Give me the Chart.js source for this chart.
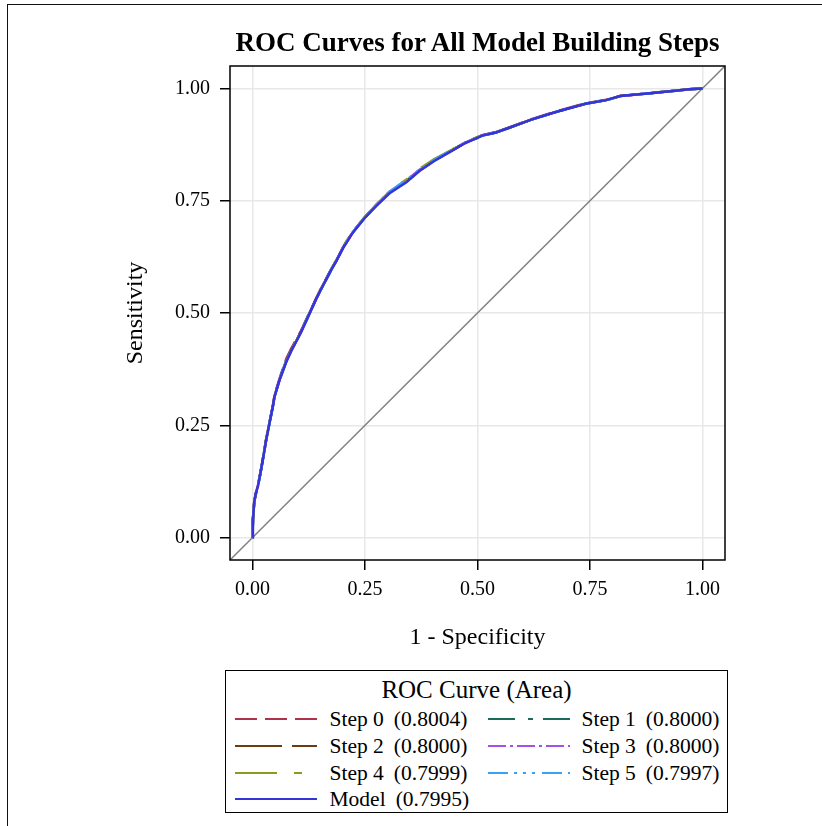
<!DOCTYPE html>
<html>
<head>
<meta charset="utf-8">
<script src="https://cdn.jsdelivr.net/npm/chart.js@4.4.0/dist/chart.umd.min.js"></script>
<style>
html,body{margin:0;padding:0;background:#fff;}
body{width:822px;height:826px;position:relative;overflow:hidden;font-family:'Liberation Serif','Times New Roman',serif;color:#000;}
#frame{position:absolute;left:7px;top:4px;width:840px;height:860px;border-top:1.5px solid #111;border-left:1.5px solid #111;}
#wrap{position:absolute;left:0;top:0;width:822px;height:826px;}
#title{position:absolute;left:230px;width:495px;top:26px;text-align:center;font-weight:bold;font-size:27px;line-height:32px;white-space:nowrap;}
#legend{position:absolute;left:225px;top:670px;width:501px;height:141px;border:1.5px solid #000;background:#fff;}
#legend .lt{position:absolute;left:0;width:100%;top:5px;text-align:center;font-size:25px;line-height:28px;}
#legend .it{position:absolute;height:28px;line-height:28px;font-size:21.5px;white-space:nowrap;}
#legend svg{position:absolute;}
#legend .area{margin-left:10px;}
</style>
</head>
<body>
<div id="frame"></div>
<div id="wrap"><canvas id="c" width="822" height="826"></canvas></div>
<div id="title">ROC Curves for All Model Building Steps</div>
<div id="legend"><div class="lt">ROC Curve (Area)</div></div>
<script>
// ---- data ----
const seriesNames = ['Step 0','Step 1','Step 2','Step 3','Step 4','Step 5','Model'];
const seriesAreas = ['0.8004','0.8000','0.8000','0.8000','0.7999','0.7997','0.7995'];
const xTickValues = [0, 0.25, 0.5, 0.75, 1];
const yTickValues = [0, 0.25, 0.5, 0.75, 1];
const axisMin = -0.05, axisMax = 1.05;

const fpr = [0,0.001,0.004,0.008,0.012,0.018,0.023,0.030,0.038,0.045,0.049,0.060,0.068,0.075,0.086,0.097,0.108,0.123,0.132,0.142,0.153,0.164,0.175,0.186,0.201,0.223,0.249,0.275,0.304,0.325,0.342,0.371,0.403,0.441,0.472,0.511,0.541,0.572,0.618,0.672,0.740,0.786,0.817,0.878,0.940,0.970,1.000];

const tprModel = [0,0.040,0.080,0.100,0.114,0.145,0.173,0.215,0.256,0.290,0.314,0.350,0.372,0.391,0.415,0.436,0.457,0.490,0.510,0.532,0.554,0.575,0.596,0.615,0.644,0.679,0.711,0.738,0.766,0.780,0.791,0.816,0.838,0.860,0.878,0.895,0.902,0.913,0.930,0.947,0.966,0.974,0.983,0.989,0.995,0.998,1.000];
const tprStep0 = [0,0.042,0.082,0.101,0.116,0.147,0.175,0.217,0.258,0.292,0.317,0.354,0.378,0.398,0.421,0.441,0.461,0.493,0.512,0.534,0.556,0.577,0.598,0.617,0.646,0.681,0.713,0.741,0.769,0.783,0.794,0.818,0.839,0.861,0.879,0.896,0.903,0.914,0.931,0.948,0.967,0.975,0.983,0.989,0.995,0.998,1.000];
const tprStep1 = [0,0.041,0.081,0.100,0.115,0.146,0.174,0.216,0.257,0.291,0.315,0.352,0.375,0.394,0.418,0.438,0.459,0.492,0.511,0.533,0.555,0.576,0.597,0.616,0.645,0.680,0.712,0.740,0.768,0.782,0.793,0.817,0.839,0.861,0.878,0.895,0.902,0.913,0.930,0.947,0.966,0.974,0.983,0.989,0.995,0.998,1.000];
const tprStep2 = [0,0.041,0.081,0.101,0.115,0.146,0.174,0.216,0.257,0.291,0.315,0.351,0.374,0.393,0.417,0.437,0.459,0.492,0.511,0.533,0.555,0.576,0.597,0.616,0.645,0.680,0.712,0.740,0.768,0.782,0.793,0.817,0.839,0.861,0.879,0.896,0.902,0.913,0.930,0.947,0.966,0.974,0.983,0.989,0.995,0.998,1.000];
const tprStep3 = [0,0.041,0.081,0.100,0.115,0.146,0.174,0.216,0.257,0.291,0.315,0.351,0.374,0.393,0.417,0.437,0.458,0.491,0.511,0.533,0.555,0.576,0.597,0.616,0.645,0.680,0.712,0.741,0.770,0.784,0.795,0.819,0.840,0.862,0.879,0.896,0.903,0.913,0.930,0.947,0.966,0.974,0.983,0.989,0.995,0.998,1.000];
const tprStep4 = [0,0.040,0.080,0.100,0.114,0.145,0.173,0.215,0.256,0.290,0.314,0.351,0.373,0.392,0.416,0.437,0.458,0.491,0.510,0.532,0.554,0.575,0.596,0.618,0.648,0.681,0.713,0.741,0.770,0.786,0.797,0.821,0.842,0.862,0.880,0.896,0.902,0.913,0.930,0.947,0.966,0.974,0.983,0.989,0.995,0.998,1.000];
const tprStep5 = [0,0.040,0.080,0.100,0.114,0.145,0.173,0.215,0.256,0.290,0.314,0.350,0.373,0.392,0.416,0.437,0.458,0.491,0.510,0.532,0.554,0.575,0.596,0.616,0.646,0.680,0.712,0.740,0.769,0.785,0.796,0.819,0.840,0.862,0.879,0.895,0.902,0.913,0.930,0.947,0.966,0.974,0.983,0.989,0.995,0.998,1.000];
const tprSeries = [tprStep0,tprStep1,tprStep2,tprStep3,tprStep4,tprStep5,tprModel];

// ---- styles ----
const seriesColors = ['#B0324A','#1B6B5C','#6A3C10','#A450E6','#8C9A22','#3AA0F2','#3434DC'];
const seriesDash = [[22,8],[27,13,5,10],[47,10],[18,4,3,4],[42,17,8,17],[20,6,3,6,3,6,3,7],[]];
const FONT = "'Liberation Serif','Times New Roman',serif";

const datasets = seriesNames.map((name,i)=>({
  label: name + ' (' + seriesAreas[i] + ')',
  data: fpr.map((x,k)=>({x:x, y:tprSeries[i][k]})),
  borderColor: seriesColors[i],
  borderWidth: 2.5,
  borderDash: seriesDash[i],
  pointRadius: 0,
  showLine: true,
  fill: false,
  tension: 0,
  order: i === seriesNames.length-1 ? 0 : 7 - i
}));
datasets.push({
  label: 'diag',
  data: [{x:axisMin,y:axisMin},{x:axisMax,y:axisMax}],
  borderColor: '#808080',
  borderWidth: 1.5,
  pointRadius: 0,
  showLine: true,
  fill: false,
  order: 20
});

const framePlugin = {
  id: 'frame',
  afterDraw(chart){
    const a = chart.chartArea, ctx = chart.ctx;
    ctx.save();
    ctx.strokeStyle = '#000';
    ctx.lineWidth = 1.5;
    ctx.strokeRect(a.left, a.top, a.right - a.left, a.bottom - a.top);
    ctx.restore();
  }
};

function setTicks(vals){
  return function(scale){ scale.ticks = vals.map(v=>({value:v})); };
}

new Chart(document.getElementById('c'), {
  type: 'scatter',
  data: { datasets },
  plugins: [framePlugin],
  options: {
    responsive: false,
    animation: false,
    devicePixelRatio: 1,
    layout: { padding: { left: 120, right: 97, top: 66, bottom: 166 } },
    plugins: { legend: { display: false }, tooltip: { enabled: false }, title: { display: false } },
    scales: {
      x: {
        type: 'linear', min: axisMin, max: axisMax,
        afterBuildTicks: setTicks(xTickValues),
        afterFit(scale){ scale.height = 100; },
        grid: { color: '#e8e8e8', lineWidth: 1.5, drawTicks: true, tickLength: 10, tickColor: '#000', tickWidth: 1.5 },
        border: { display: false },
        ticks: { color: '#000', padding: 8, maxRotation: 0, font: { family: FONT, size: 20 }, callback: v => Number(v).toFixed(2) },
        title: { display: true, text: '1 - Specificity', color: '#000', font: { family: FONT, size: 24 }, padding: { top: 0, bottom: 8 } }
      },
      y: {
        type: 'linear', min: axisMin, max: axisMax,
        afterBuildTicks: setTicks(yTickValues),
        afterFit(scale){ scale.width = 110; },
        grid: { color: '#e8e8e8', lineWidth: 1.5, drawTicks: true, tickLength: 10, tickColor: '#000', tickWidth: 1.5 },
        border: { display: false },
        ticks: { color: '#000', padding: 10, font: { family: FONT, size: 20 }, callback: v => Number(v).toFixed(2) },
        title: { display: true, text: 'Sensitivity', color: '#000', font: { family: FONT, size: 24 }, padding: { top: 1, bottom: 0 } }
      }
    }
  }
});

// ---- legend (HTML) ----
const leg = document.getElementById('legend');
const rowTops = [34, 61, 88, 114];
const colSample = [8.5, 261.5];
const colLabel = [103.5, 355.5];
seriesNames.forEach((name,i)=>{
  const r = Math.floor(i/2), c = i%2;
  const svgNS = 'http://www.w3.org/2000/svg';
  const svg = document.createElementNS(svgNS,'svg');
  svg.setAttribute('width','82'); svg.setAttribute('height','6');
  svg.style.left = colSample[c] + 'px';
  svg.style.top = (rowTops[r] + 11) + 'px';
  const ln = document.createElementNS(svgNS,'line');
  ln.setAttribute('x1','0'); ln.setAttribute('y1','3'); ln.setAttribute('x2','82'); ln.setAttribute('y2','3');
  ln.setAttribute('stroke', seriesColors[i]); ln.setAttribute('stroke-width','2');
  if (seriesDash[i].length) ln.setAttribute('stroke-dasharray', seriesDash[i].join(' '));
  svg.appendChild(ln);
  leg.appendChild(svg);
  const it = document.createElement('div');
  it.className = 'it';
  it.style.left = colLabel[c] + 'px';
  it.style.top = rowTops[r] + 'px';
  it.appendChild(document.createTextNode(name));
  const sp = document.createElement('span');
  sp.className = 'area';
  sp.textContent = '(' + seriesAreas[i] + ')';
  it.appendChild(sp);
  leg.appendChild(it);
});
</script>
</body>
</html>
